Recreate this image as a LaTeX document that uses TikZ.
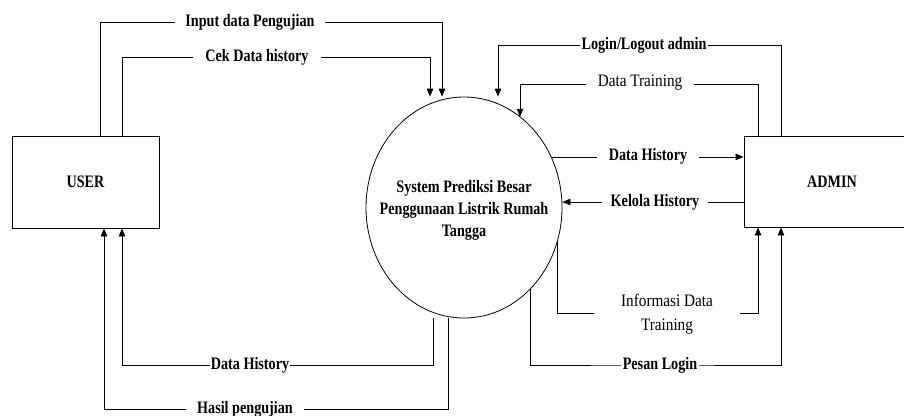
\documentclass[tikz,border=0pt]{standalone}
\usepackage{fontspec}
\setmainfont{Liberation Serif}
\newfontfamily\lblbold{Liberation Serif}[FakeStretch=0.81]
\newfontfamily\lblplain{Liberation Serif}[FakeStretch=0.87]
\usetikzlibrary{arrows.meta,shapes.geometric}

\tikzset{
  entity/.style={draw, line width=0.9pt, rectangle, inner sep=0pt,
    font=\lblbold\bfseries\fontsize{17.5}{22}\selectfont},
  process/.style={draw, line width=0.8pt, ellipse, inner sep=0pt},
  proctext/.style={inner sep=0pt, align=center,
    font=\lblbold\bfseries\fontsize{17.5}{22}\selectfont},
  flow/.style={line width=0.8pt, -{Triangle[length=8pt,width=6.5pt]}},
  blbl/.style={fill=white, inner ysep=1pt,
    font=\lblbold\bfseries\fontsize{17.5}{22}\selectfont},
  plbl/.style={fill=white, inner ysep=1pt, align=center,
    font=\lblplain\fontsize{17.5}{24}\selectfont},
}

\begin{document}
\begin{tikzpicture}[x=1pt,y=-1pt]
\clip (0,0) rectangle (904,415);
\fill[white] (0,0) rectangle (904,415);

% external entities and the process
\node[entity, minimum width=147pt, minimum height=92pt] (user) at (85.5,182) {USER};
\node[entity, minimum width=176pt, minimum height=91pt] (admin) at (832,181.5) {ADMIN};
\node[process, minimum width=196pt, minimum height=221pt] (sys) at (464,207.5) {};
\node[proctext] (systext) at ([yshift=-2.5pt]sys.center)
  {System Prediksi Besar\\Penggunaan Listrik Rumah\\Tangga};

% bend points of the routed flows
\coordinate (bIn)  at (442,22);
\coordinate (bCek) at (430,57);
\coordinate (bDH)  at (122,365);
\coordinate (bHP)  at (104,409);
\coordinate (bLog) at (498,45);
\coordinate (bDT)  at (520,84);
\coordinate (bKH)  at (600,202);
\coordinate (bIDT) at (700,313);
\coordinate (bPL)  at (650,365);

% USER <-> system
\draw[flow] ([xshift=14.5pt]user.north) |- (bIn) -- ([xshift=-22pt]sys.north);
\draw[flow] ([xshift=36.5pt]user.north) |- (bCek) -- ([xshift=-34pt]sys.north);
\draw[flow] ([xshift=-31pt]sys.south) |- (bDH) -- ([xshift=36.5pt]user.south);
\draw[flow] ([xshift=-16pt]sys.south) |- (bHP) -- ([xshift=18.5pt]user.south);

% ADMIN <-> system
\draw[flow] ([xshift=-51pt]admin.north) |- (bLog) -- ([xshift=34pt]sys.north);
\draw[flow] ([xshift=-74pt]admin.north) |- (bDT) -- (bDT |- sys.58.3);
\draw[flow] (sys.30.7) -- (sys.30.7 -| admin.west);
\draw[flow] (admin.west |- bKH) -- (sys.east |- bKH);
\draw[flow] (sys.-20.5) |- (bIDT) -| ([xshift=-74pt]admin.south);
\draw[flow] (sys.-51.1) |- (bPL) -| ([xshift=-51pt]admin.south);

% flow labels
\node[blbl, inner xsep=10pt] (lIn)  at (250,22)  {Input data Pengujian};
\node[blbl, inner xsep=12pt] (lCek) at (257,57)  {Cek Data history};
\node[blbl, inner xsep=0.5pt] (lDH) at (250,365) {Data History};
\node[blbl, inner xsep=11pt] (lHP)  at (245,409.5) {Hasil pengujian};
\node[blbl, inner xsep=1.5pt] (lLog) at (644,45) {Login/Logout admin};
\node[plbl, inner xsep=12pt] (lDT)  at (640,83)  {Data Training};
\node[blbl, inner xsep=12pt] (lDHr) at (648,156.5) {Data History};
\node[blbl, inner xsep=9pt]  (lKH)  at (655,202.5) {Kelola History};
\node[plbl, inner xsep=27pt] (lIDT) at (667,314) {Informasi Data\\Training};
\node[blbl, inner xsep=2pt]  (lPL)  at (660,365) {Pesan Login};
\end{tikzpicture}
\end{document}
